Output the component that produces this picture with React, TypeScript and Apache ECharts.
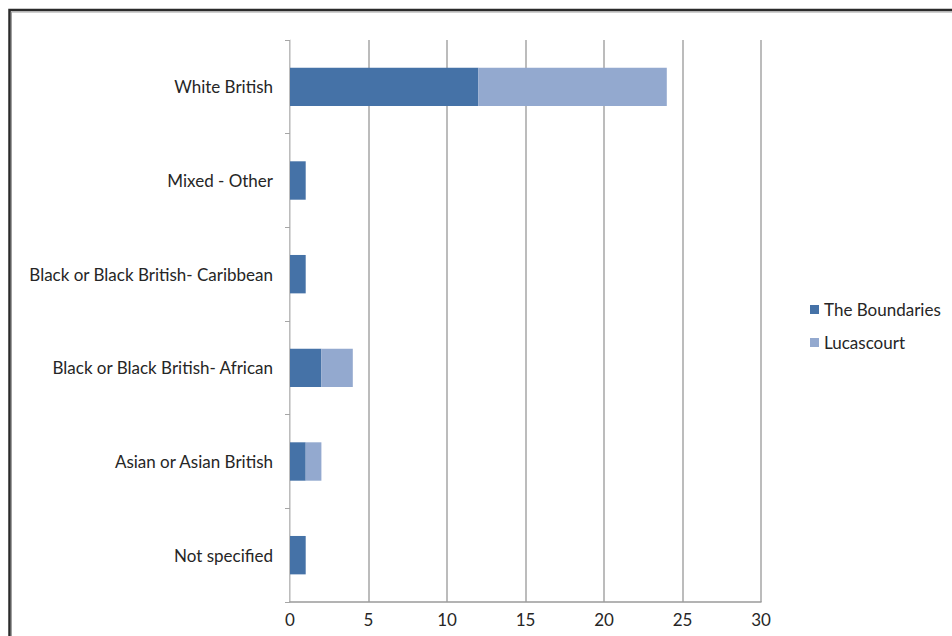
import React, { useEffect, useRef } from "react";
import * as echarts from "echarts";

const categories = [
  "White British",
  "Mixed - Other",
  "Black or Black British- Caribbean",
  "Black or Black British- African",
  "Asian or Asian British",
  "Not specified",
];
const boundaries = [12, 1, 1, 2, 1, 1];
const lucascourt = [12, 0, 0, 2, 1, 0];
const seriesNames = ["The Boundaries", "Lucascourt"];

const FONT = "Lato, 'Open Sans', sans-serif";

export default function App() {
  const ref = useRef<HTMLDivElement>(null);
  useEffect(() => {
    document.body.style.margin = "0";
    const chart = echarts.init(ref.current!, null, { renderer: "svg" });
    chart.setOption({
      animation: false,
      backgroundColor: "#ffffff",
      textStyle: { fontFamily: FONT },
      grid: { left: 290, right: 191, top: 40, bottom: 34, containLabel: false },
      legend: {
        orient: "vertical",
        left: 805,
        top: 296,
        itemWidth: 9,
        itemHeight: 9,
        itemGap: 16,
        icon: "rect",
        textStyle: { fontSize: 17, color: "#262626", fontFamily: FONT },
        data: seriesNames,
      },
      xAxis: {
        type: "value",
        min: 0,
        max: 30,
        interval: 5,
        axisLine: { show: true, lineStyle: { color: "#9a9a9a", width: 1.5 } },
        axisTick: { show: false },
        axisLabel: { fontSize: 17, color: "#262626", margin: 9, fontFamily: FONT },
        splitLine: { show: true, lineStyle: { color: "#a6a6a6", width: 1.5 } },
      },
      yAxis: {
        type: "category",
        inverse: true,
        data: categories,
        axisLine: { show: true, lineStyle: { color: "#d9d9d9", width: 1 } },
        axisTick: { show: true, length: 5, lineStyle: { color: "#a6a6a6" } },
        axisLabel: { fontSize: 17, color: "#262626", margin: 17, fontFamily: FONT },
      },
      series: [
        {
          name: seriesNames[0],
          type: "bar",
          stack: "total",
          data: boundaries,
          barCategoryGap: "59%",
          itemStyle: { color: "#4572a7" },
        },
        {
          name: seriesNames[1],
          type: "bar",
          stack: "total",
          data: lucascourt,
          barCategoryGap: "59%",
          itemStyle: { color: "#93a9cf" },
        },
      ],
      graphic: [
        {
          type: "polyline",
          shape: { points: [[9.5, 700], [9.5, 10], [1000, 10]] },
          style: { stroke: "#2b2b2b", lineWidth: 2.5, fill: null },
          silent: true,
        },
        {
          type: "polyline",
          shape: { points: [[11.5, 700], [11.5, 12], [1000, 12]] },
          style: { stroke: "#a0a0a0", lineWidth: 1, fill: null },
          silent: true,
        },
      ],
    });
    return () => chart.dispose();
  }, []);
  return <div ref={ref} style={{ width: 952, height: 636 }} />;
}
